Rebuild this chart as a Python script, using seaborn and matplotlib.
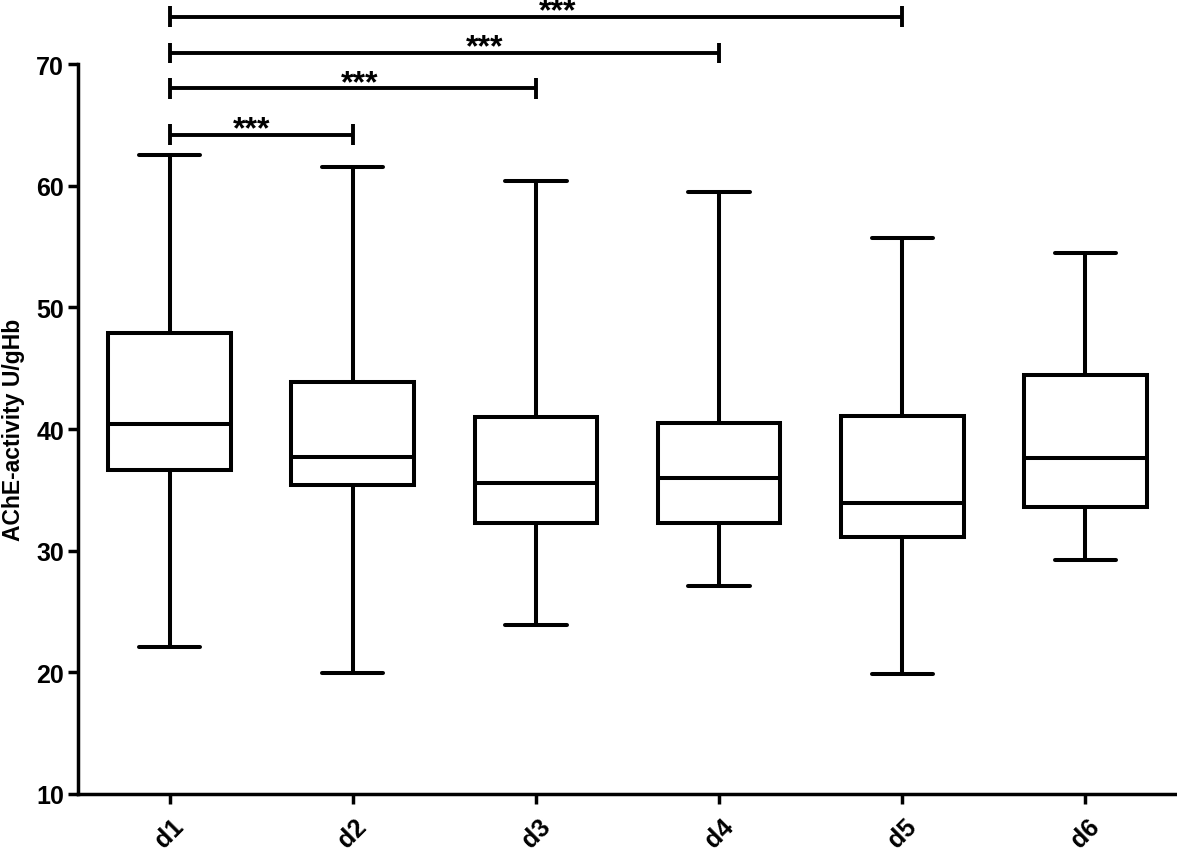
import matplotlib
matplotlib.use("Agg")
import matplotlib.pyplot as plt
import seaborn as sns
import pandas as pd

# five-number summaries (min, Q1, median, Q3, max)
days = ["d1", "d2", "d3", "d4", "d5", "d6"]
mins = [22.1, 19.95, 23.9, 27.1, 19.9, 29.2]
q1s = [36.6, 35.4, 32.3, 32.3, 31.1, 33.6]
medians = [40.4, 37.7, 35.55, 36.0, 33.9, 37.6]
q3s = [47.9, 43.9, 41.0, 40.5, 41.05, 44.4]
maxs = [62.5, 61.5, 60.4, 59.5, 55.7, 54.5]

# significance brackets
pairs = [("d1", "d2"), ("d1", "d3"), ("d1", "d4"), ("d1", "d5")]
pair_levels = [64.2, 68.0, 70.9, 73.9]
pair_labels = ["***", "***", "***", "***"]
star_offsets = [-0.05, 0.04, 0.22, 0.12]

# long-form table: 5 points per day -> quartiles hit the summary exactly
rows = []
for i, d in enumerate(days):
    for v in (mins[i], q1s[i], medians[i], q3s[i], maxs[i]):
        rows.append({"day": d, "value": v})
df = pd.DataFrame(rows)

sns.set_style("ticks")
plt.rcParams["font.family"] = ["Liberation Sans", "DejaVu Sans"]
plt.rcParams["font.weight"] = "bold"
plt.rcParams["text.color"] = "black"
plt.rcParams["axes.labelcolor"] = "black"
plt.rcParams["xtick.color"] = "black"
plt.rcParams["ytick.color"] = "black"
plt.rcParams["axes.edgecolor"] = "black"

fig = plt.figure(figsize=(11.77, 8.54), dpi=100)
ax = fig.add_axes([78 / 1177, 59 / 854, 1 - 78 / 1177, 730 / 854])

lw = 2.9
sns.boxplot(data=df, x="day", y="value", order=days, whis=(0, 100),
            width=0.67, color="white", linecolor="black", linewidth=lw,
            showfliers=False, ax=ax)

ax.set_ylim(10, 70)
ax.set_xlim(-0.5, 5.5)
ax.set_yticks([10, 20, 30, 40, 50, 60, 70])
sns.despine(ax=ax)
for s in ("left", "bottom"):
    ax.spines[s].set_linewidth(2.5)
    ax.spines[s].set_color("black")

ax.tick_params(axis="both", length=7, width=2.5, labelsize=18, colors="black")
ax.tick_params(axis="y", pad=3)
ax.tick_params(axis="x", pad=7)
for lab in ax.get_xticklabels():
    lab.set_rotation(45)
    lab.set_fontweight("bold")
for lab in ax.get_yticklabels():
    lab.set_fontweight("bold")

ax.set_xlabel("")
ax.set_ylabel("AChE-activity U/gHb", fontsize=16.5, fontweight="bold",
              labelpad=8, color="black")

for (a, b), y, txt, off in zip(pairs, pair_levels, pair_labels, star_offsets):
    x1, x2 = days.index(a), days.index(b)
    ax.plot([x1, x2], [y, y], color="black", lw=2.8, clip_on=False,
            solid_capstyle="butt")
    ax.vlines([x1, x2], y - 0.85, y + 0.85, color="black", lw=2.8,
              clip_on=False)
    ax.text((x1 + x2) / 2 + off, y - 0.2, txt, ha="center", va="baseline",
            fontsize=23, fontweight="bold", color="black")

fig.savefig("out.png", dpi=100)
